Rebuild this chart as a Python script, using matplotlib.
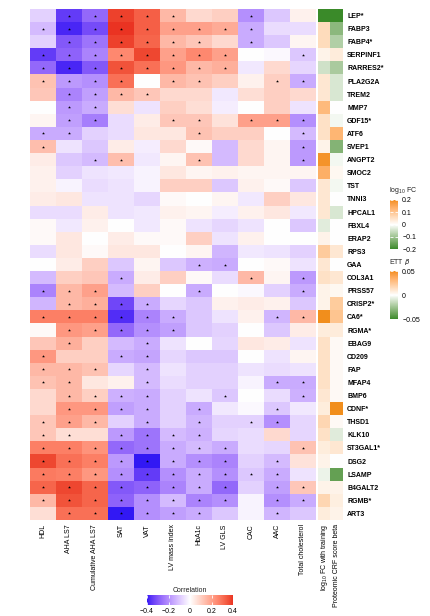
import numpy as np
import matplotlib
matplotlib.use('Agg')
import matplotlib.pyplot as plt
import matplotlib.colors as mcolors
import matplotlib.cm as cm

plt.rcParams['font.family'] = ['Liberation Sans', 'DejaVu Sans']
plt.rcParams['mathtext.default'] = 'regular'
plt.rcParams['text.color'] = '#222222'

genes = ["LEP*", "FABP3", "FABP4*", "SERPINF1", "RARRES2*", "PLA2G2A", "TREM2", "MMP7",
         "GDF15*", "ATF6", "SVEP1", "ANGPT2", "SMOC2", "TST", "TNNI3", "HPCAL1", "FBXL4",
         "ERAP2", "RPS3", "GAA", "COL3A1", "PRSS57", "CRISP2*", "CA6*", "RGMA*", "EBAG9",
         "CD209", "FAP", "MFAP4", "BMP6", "CDNF*", "THSD1", "KLK10", "ST3GAL1*", "DSG2",
         "LSAMP", "B4GALT2", "RGMB*", "ART3"]

traits = ["HDL", "AHA LS7", "Cumulative AHA LS7", "SAT", "VAT", "LV mass index", "HbA1c",
          "LV GLS", "CAC", "AAC", "Total cholesterol"]

# correlation of each protein (rows) with each trait (columns)
corr = [
    [-0.08, -0.35, -0.27, 0.38, 0.33, 0.15, 0.08, 0.10, -0.20, -0.10, 0.03],
    [-0.12, -0.38, -0.32, 0.40, 0.33, 0.20, 0.20, 0.18, -0.15, -0.06, -0.06],
    [-0.08, -0.30, -0.25, 0.38, 0.32, 0.15, 0.12, 0.08, -0.15, -0.10, 0.02],
    [-0.35, -0.28, -0.22, 0.25, 0.37, 0.20, 0.25, 0.20, 0.00, -0.01, -0.10],
    [-0.27, -0.38, -0.30, 0.35, 0.30, 0.22, 0.15, 0.17, -0.04, 0.08, -0.07],
    [0.13, -0.18, -0.20, 0.30, 0.00, 0.15, 0.13, 0.10, 0.03, 0.10, -0.15],
    [0.12, -0.22, -0.17, 0.15, 0.12, 0.08, 0.08, -0.04, 0.07, 0.10, 0.08],
    [0.00, -0.18, -0.15, 0.07, -0.05, 0.10, 0.07, -0.03, 0.00, 0.10, -0.05],
    [0.02, -0.17, -0.23, -0.06, 0.04, 0.12, 0.12, 0.06, 0.20, 0.20, -0.20],
    [-0.15, -0.15, -0.08, -0.06, 0.05, 0.05, 0.13, 0.10, 0.10, 0.00, -0.12],
    [0.14, -0.05, -0.10, 0.04, -0.03, 0.08, 0.01, -0.12, 0.08, 0.02, -0.18],
    [0.04, -0.10, -0.12, 0.14, -0.04, 0.02, 0.13, -0.12, 0.08, 0.02, -0.18],
    [0.03, -0.08, -0.05, -0.04, -0.02, 0.05, 0.02, 0.03, 0.02, 0.02, 0.02],
    [0.03, -0.02, -0.06, -0.05, -0.02, 0.10, 0.10, -0.10, 0.03, 0.01, -0.10],
    [0.04, 0.05, -0.05, -0.05, -0.07, 0.01, 0.00, 0.02, -0.04, 0.10, 0.05],
    [-0.06, -0.06, 0.04, -0.05, -0.04, 0.03, 0.02, -0.03, 0.03, 0.05, -0.04],
    [0.01, -0.04, 0.03, 0.00, -0.04, 0.01, -0.05, -0.07, -0.05, 0.00, -0.10],
    [0.01, 0.05, 0.00, 0.04, 0.01, 0.01, 0.10, -0.05, 0.03, 0.00, 0.00],
    [-0.06, 0.05, 0.01, 0.05, 0.05, 0.00, 0.02, -0.13, -0.04, -0.05, -0.08],
    [0.00, 0.04, 0.10, -0.10, 0.02, -0.10, -0.14, -0.15, 0.00, 0.01, -0.05],
    [-0.12, 0.10, 0.12, -0.15, 0.04, 0.10, 0.01, -0.06, 0.15, 0.02, -0.18],
    [-0.22, 0.15, 0.20, -0.12, 0.10, 0.00, -0.15, 0.00, -0.01, -0.08, -0.15],
    [-0.13, 0.15, 0.17, -0.33, -0.15, -0.07, -0.10, 0.03, 0.04, 0.03, -0.10],
    [0.27, 0.27, 0.27, -0.37, -0.22, -0.15, -0.10, -0.05, 0.03, -0.13, 0.15],
    [0.01, 0.22, 0.20, -0.27, -0.20, -0.17, -0.10, -0.08, 0.00, -0.10, 0.04],
    [0.12, 0.17, 0.10, -0.12, -0.15, -0.05, 0.00, -0.07, 0.05, 0.04, -0.05],
    [0.22, 0.10, 0.10, -0.15, -0.16, -0.07, -0.10, -0.10, 0.00, -0.05, 0.02],
    [0.15, 0.15, 0.13, -0.07, -0.12, -0.05, -0.08, -0.08, -0.05, -0.06, -0.05],
    [0.13, 0.15, 0.05, 0.03, -0.12, -0.06, -0.08, -0.08, -0.02, -0.15, -0.15],
    [0.08, 0.15, 0.10, -0.14, -0.15, -0.08, -0.05, -0.10, 0.00, -0.06, -0.14],
    [0.08, 0.22, 0.22, -0.17, -0.15, -0.08, -0.15, -0.04, -0.01, -0.10, -0.04],
    [0.12, 0.20, 0.15, -0.08, -0.15, -0.08, -0.13, -0.08, -0.08, -0.20, -0.07],
    [0.12, 0.07, 0.07, -0.18, -0.25, -0.12, -0.14, -0.07, -0.06, 0.08, -0.07],
    [0.27, 0.27, 0.23, -0.27, -0.25, -0.15, -0.12, -0.15, -0.06, -0.07, 0.13],
    [0.37, 0.30, 0.27, -0.18, -0.42, -0.15, -0.20, -0.22, -0.08, -0.12, 0.06],
    [0.28, 0.27, 0.22, -0.20, -0.35, -0.20, -0.15, -0.20, -0.10, -0.15, -0.05],
    [0.32, 0.37, 0.32, -0.30, -0.28, -0.22, -0.15, -0.27, -0.08, -0.17, 0.12],
    [0.15, 0.35, 0.32, -0.28, -0.20, -0.12, -0.22, -0.20, -0.02, -0.20, -0.15],
    [0.07, 0.30, 0.30, -0.42, -0.20, -0.17, -0.15, -0.10, -0.02, -0.13, -0.10],
]

# columns with a significant correlation (marked with *) for each row
signif = [
    [1, 2, 3, 4, 5, 8], [0, 1, 2, 3, 4, 5, 6, 7, 8], [1, 2, 3, 4, 5, 6, 8],
    [0, 1, 2, 3, 4, 5, 6, 7, 10], [0, 1, 2, 3, 4, 5, 6, 7], [0, 1, 2, 3, 5, 6, 9, 10],
    [1, 2, 3, 4], [1, 2], [1, 2, 5, 6, 8, 9, 10], [0, 1, 6, 10], [0, 10], [2, 3, 6, 10],
    [], [], [], [], [], [], [], [6, 7], [3, 8, 10], [0, 1, 2, 6, 10], [1, 2, 3, 4],
    [0, 1, 2, 3, 4, 5, 9, 10], [1, 2, 3, 4, 5], [1, 4], [0, 3, 4], [0, 1, 2, 4],
    [0, 1, 4, 9, 10], [1, 2, 3, 4, 7, 10], [1, 2, 3, 4, 6, 9], [0, 1, 2, 4, 6, 8, 9],
    [0, 1, 3, 4, 5, 6], [0, 1, 2, 3, 4, 5, 6, 7, 10], [0, 1, 2, 3, 4, 5, 6, 7, 9],
    [0, 1, 2, 3, 4, 5, 6, 7, 8, 9], [0, 1, 2, 3, 4, 5, 6, 7, 9, 10],
    [0, 1, 2, 3, 4, 5, 6, 7, 9, 10], [1, 2, 3, 4, 5, 6, 9],
]

log_fc = [-0.20, 0.06, 0.06, 0.02, -0.05, 0.04, 0.04, 0.12, 0.05, 0.05, 0.02, 0.19, 0.14,
          0.04, 0.04, 0.04, -0.03, 0.02, 0.09, 0.04, 0.05, 0.02, 0.02, 0.20, 0.03, 0.05,
          0.05, 0.05, 0.05, 0.04, 0.03, 0.07, 0.05, 0.03, 0.02, -0.02, 0.02, 0.07, 0.03]

ett_beta = [-0.05, -0.03, -0.02, 0.008, -0.022, -0.01, -0.01, 0.0, -0.003, 0.032, -0.032,
            -0.003, 0.003, -0.003, 0.0, -0.01, 0.0, 0.0, 0.01, 0.0, 0.01, 0.003, 0.022,
            0.025, 0.008, 0.002, 0.002, 0.002, 0.002, 0.002, 0.05, 0.002, -0.008, 0.01,
            0.0, -0.04, 0.005, 0.007, 0.005]


# colour ramps interpolated in LAB space
def to_lab(c):
    rgb = np.array(mcolors.to_rgb(c))
    lin = np.where(rgb <= 0.04045, rgb / 12.92, ((rgb + 0.055) / 1.055) ** 2.4)
    M = np.array([[0.4124, 0.3576, 0.1805], [0.2126, 0.7152, 0.0722], [0.0193, 0.1192, 0.9505]])
    xyz = M @ lin / np.array([0.95047, 1.0, 1.08883])
    f = np.where(xyz > 0.008856, np.cbrt(xyz), 7.787 * xyz + 16 / 116)
    return np.array([116 * f[1] - 16, 500 * (f[0] - f[1]), 200 * (f[1] - f[2])])


def from_lab(lab):
    fy = (lab[:, 0] + 16) / 116
    f = np.stack([fy + lab[:, 1] / 500, fy, fy - lab[:, 2] / 200], axis=1)
    xyz = np.where(f ** 3 > 0.008856, f ** 3, (f - 16 / 116) / 7.787) * np.array([0.95047, 1.0, 1.08883])
    M = np.array([[0.4124, 0.3576, 0.1805], [0.2126, 0.7152, 0.0722], [0.0193, 0.1192, 0.9505]])
    lin = np.clip(xyz @ np.linalg.inv(M).T, 0, 1)
    rgb = np.where(lin <= 0.0031308, 12.92 * lin, 1.055 * lin ** (1 / 2.4) - 0.055)
    return np.clip(rgb, 0, 1)


def lab_cmap(colors):
    labs = np.array([to_lab(c) for c in colors])
    t = np.linspace(0, 1, 256)
    pos = np.linspace(0, 1, len(colors))
    out = np.stack([np.interp(t, pos, labs[:, k]) for k in range(3)], axis=1)
    return mcolors.ListedColormap(from_lab(out))


cmap_corr = lab_cmap(['#3318f5', '#ffffff', '#ea3322'])
cmap_ann = lab_cmap(['#3a8a2a', '#ffffff', '#f28e1c'])

fig = plt.figure(figsize=(4.3, 6.16), dpi=100)
W, H = 430, 616
top, bot = 9, 520

# main heatmap
ax = fig.add_axes([30 / W, 1 - bot / H, 286 / W, (bot - top) / H])
ax.imshow(np.array(corr), cmap=cmap_corr, vmin=-0.4, vmax=0.4, aspect='auto', interpolation='nearest')
for i, cols in enumerate(signif):
    for j in cols:
        ax.scatter(j, i, marker='*', s=5, c='black', linewidths=0)
ax.set_xticks(np.arange(len(traits)))
ax.set_xticklabels(traits, rotation=90, fontsize=5)
ax.set_yticks([])
ax.tick_params(length=0, pad=3)
for s in ax.spines.values():
    s.set_visible(False)

# annotation columns
ax2 = fig.add_axes([318 / W, 1 - bot / H, 25 / W, (bot - top) / H])
fc_rgb = cmap_ann(mcolors.Normalize(-0.2, 0.2)(np.array(log_fc)))
ett_rgb = cmap_ann(mcolors.Normalize(-0.05, 0.05)(np.array(ett_beta)))
ax2.imshow(np.stack([fc_rgb, ett_rgb], axis=1), aspect='auto', interpolation='nearest')
ax2.set_xticks([0, 1])
ax2.set_xticklabels([r"log$_{10}$ FC with training", "Proteomic CRF score beta"], rotation=90, fontsize=5)
ax2.yaxis.tick_right()
ax2.set_yticks(np.arange(len(genes)))
ax2.set_yticklabels(genes, fontsize=5, fontweight='bold')
ax2.tick_params(length=0, pad=3)
for s in ax2.spines.values():
    s.set_visible(False)

# legends on the right
def vert_legend(y0, y1, vmin, vmax, ticks, labels, title):
    cax = fig.add_axes([390 / W, 1 - y1 / H, 8 / W, (y1 - y0) / H])
    sm = cm.ScalarMappable(norm=mcolors.Normalize(vmin, vmax), cmap=cmap_ann)
    cb = fig.colorbar(sm, cax=cax, ticks=ticks)
    cb.ax.set_yticklabels(labels)
    cb.outline.set_visible(False)
    cb.ax.yaxis.set_ticks_position('both')
    cb.ax.tick_params(direction='in', color='white', length=2, width=0.6, labelsize=5, pad=3,
                      labelleft=False, labelright=True)
    fig.text(389 / W, 1 - (y0 - 9) / H, title, fontsize=5, va='center', ha='left')

vert_legend(200, 249, -0.2, 0.2, [-0.2, -0.1, 0, 0.1, 0.2],
            ['\u22120.2', '\u22120.1', '0', '0.1', '0.2'], r"log$_{10}$ FC")
vert_legend(271, 319, -0.05, 0.05, [-0.05, 0, 0.05], ['\u22120.05', '0', '0.05'], r"ETT $\it{\beta}$")

# correlation legend at the bottom
cax = fig.add_axes([147 / W, 1 - 605 / H, 86 / W, 10 / H])
sm = cm.ScalarMappable(norm=mcolors.Normalize(-0.4, 0.4), cmap=cmap_corr)
cb = fig.colorbar(sm, cax=cax, orientation='horizontal', ticks=[-0.4, -0.2, 0, 0.2, 0.4])
cb.ax.set_xticklabels(['\u22120.4', '\u22120.2', '0', '0.2', '0.4'])
cb.outline.set_visible(False)
cb.ax.xaxis.set_ticks_position('both')
cb.ax.tick_params(direction='in', color='white', length=2, width=0.6, labelsize=5, pad=2,
                  labeltop=False, labelbottom=True)
fig.text(190 / W, 1 - 590 / H, "Correlation", fontsize=5, ha='center', va='center')

fig.savefig('out.png', dpi=100)
